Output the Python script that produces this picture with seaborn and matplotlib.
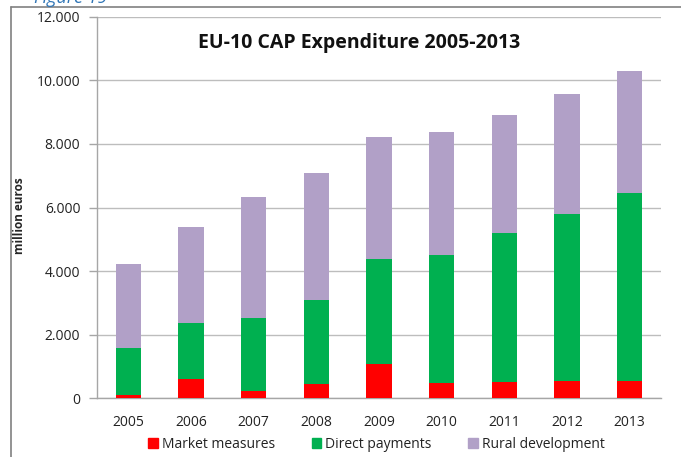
import numpy as np
import pandas as pd
import matplotlib
matplotlib.use("Agg")
import matplotlib.pyplot as plt
import matplotlib.ticker as mticker
from matplotlib.patches import Patch
import seaborn as sns

years = ["2005", "2006", "2007", "2008", "2009", "2010", "2011", "2012", "2013"]
market_measures = [100, 605, 230, 440, 1075, 480, 520, 545, 545]
direct_payments = [1470, 1775, 2305, 2650, 3315, 4025, 4670, 5240, 5920]
rural_development = [2645, 3015, 3805, 4005, 3825, 3880, 3720, 3775, 3835]

c_market = "#FF0000"
c_direct = "#00B050"
c_rural = "#B1A0C7"

df = pd.DataFrame({"year": years,
                   "market": market_measures,
                   "direct": direct_payments,
                   "rural": rural_development})
df["lvl_direct"] = df["market"] + df["direct"]
df["lvl_total"] = df["lvl_direct"] + df["rural"]

sns.set_style("white")
plt.rcParams["font.family"] = ["Open Sans", "DejaVu Sans"]

fig = plt.figure(figsize=(6.81, 4.57), dpi=100)
ax = fig.add_axes([0.1424, 0.1284, 0.8282, 0.8351])

# stacked bars by overlaying cumulative levels
sns.barplot(data=df, x="year", y="lvl_total", color=c_rural, width=0.4,
            saturation=1, linewidth=0, ax=ax, zorder=3)
sns.barplot(data=df, x="year", y="lvl_direct", color=c_direct, width=0.4,
            saturation=1, linewidth=0, ax=ax, zorder=3)
sns.barplot(data=df, x="year", y="market", color=c_market, width=0.4,
            saturation=1, linewidth=0, ax=ax, zorder=3)

ax.set_ylim(0, 12000)
ax.set_xlim(-0.5, len(years) - 0.5)
ax.yaxis.set_major_locator(mticker.MultipleLocator(2000))
ax.yaxis.set_major_formatter(mticker.FuncFormatter(lambda v, p: f"{int(v):,}".replace(",", ".")))
ax.grid(axis="y", color="#BDBDBD", linewidth=1, zorder=0)
ax.set_axisbelow(True)

for s in ["top", "right"]:
    ax.spines[s].set_visible(False)
for s in ["left", "bottom"]:
    ax.spines[s].set_color("#A6A6A6")
    ax.spines[s].set_linewidth(1)

# x ticks sit between categories
ax.set_xticks(np.arange(len(years)))
ax.set_xticklabels(years)
ax.xaxis.set_minor_locator(mticker.FixedLocator(np.arange(-0.5, len(years), 1)))
ax.tick_params(axis="x", which="major", length=0, pad=12, labelsize=10, labelcolor="#222222")
ax.tick_params(axis="x", which="minor", length=5, width=1, color="#A6A6A6", direction="out")
ax.tick_params(axis="y", length=6, width=1, color="#A6A6A6", direction="out", pad=6,
               labelsize=10, labelcolor="#222222", left=True)

ax.set_xlabel("")
ax.set_ylabel("million euros", fontsize=8.5, fontweight="bold", labelpad=0)
ax.yaxis.set_label_coords(-0.125, 0.48)

fig.text(0.528, 0.905, "EU-10 CAP Expenditure 2005-2013", ha="center", va="center",
         fontsize=14, fontweight="bold", color="#111111")

handles = [Patch(color=c_market, label="Market measures"),
           Patch(color=c_direct, label="Direct payments"),
           Patch(color=c_rural, label="Rural development")]
fig.legend(handles=handles, loc="center", bbox_to_anchor=(0.553, 0.028), ncol=3,
           frameon=False, fontsize=10, handlelength=0.7, handleheight=0.7,
           handletextpad=0.3, columnspacing=2.6, labelcolor="#222222")

# outer frame lines and cut caption
fig.add_artist(plt.Line2D([0.016, 0.016], [0, 0.985], color="#808080", linewidth=1.2,
                          transform=fig.transFigure))
fig.add_artist(plt.Line2D([0.016, 1.0], [0.985, 0.985], color="#808080", linewidth=1.2,
                          transform=fig.transFigure))
fig.text(0.05, 1.005, "Figure 19", ha="left", va="center", fontsize=13,
         style="italic", color="#2E74B5")

fig.savefig("out.png", dpi=100)
